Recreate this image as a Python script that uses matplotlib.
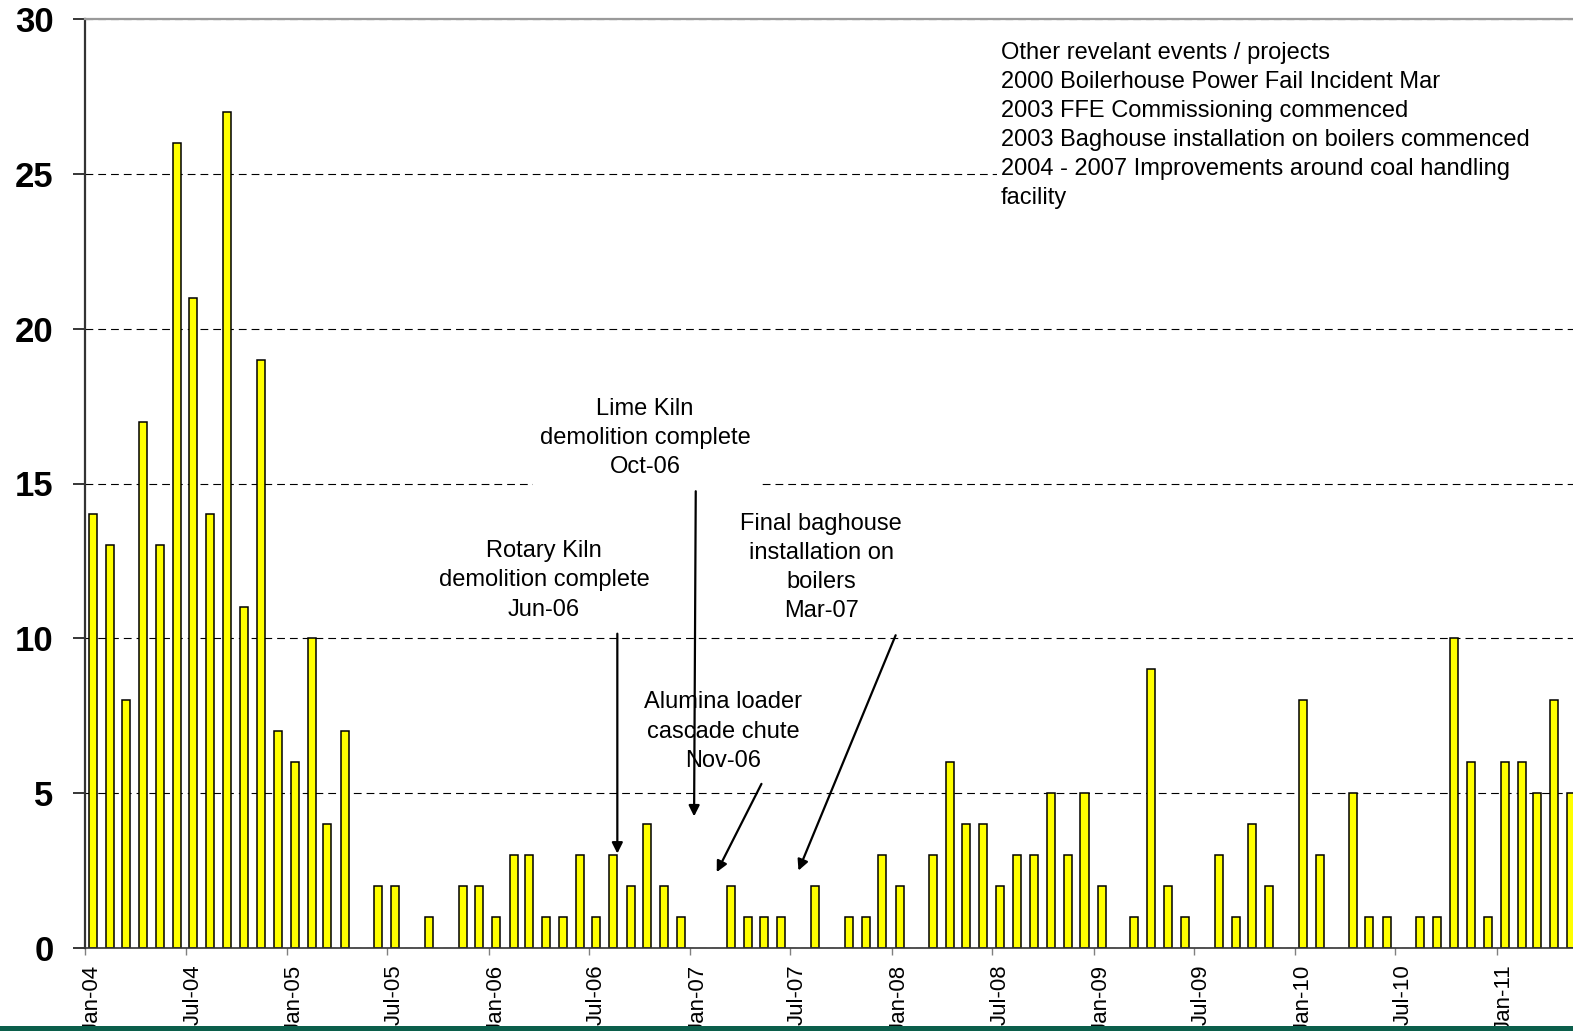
import matplotlib
matplotlib.use('Agg')
import matplotlib.pyplot as plt
import matplotlib.dates as mdates
import matplotlib.transforms as mtransforms
from matplotlib.patches import Rectangle
import pandas as pd

plt.rcParams['font.family'] = ['Liberation Sans', 'DejaVu Sans']

# monthly counts, Jan-04 .. May-11 (last bar is cut by the right edge)
months = pd.date_range('2004-01-01', '2011-05-01', freq='MS')
counts = [14, 13, 8, 17, 13, 26, 21, 14, 27, 11, 19, 7,
          6, 10, 4, 7, 0, 2, 2, 0, 1, 0, 2, 2,
          1, 3, 3, 1, 1, 3, 1, 3, 2, 4, 2, 1,
          0, 0, 2, 1, 1, 1, 0, 2, 0, 1, 1, 3,
          2, 0, 3, 6, 4, 4, 2, 3, 3, 5, 3, 5,
          2, 0, 1, 9, 2, 1, 0, 3, 1, 4, 2, 0,
          8, 3, 0, 5, 1, 1, 0, 1, 1, 10, 6, 1,
          6, 6, 5, 8, 5]
tick_dates = pd.date_range('2004-01-01', '2011-01-01', freq='6MS')
yticks = [0, 5, 10, 15, 20, 25, 30]

events_text = ("Other revelant events / projects\n"
               "2000 Boilerhouse Power Fail Incident Mar\n"
               "2003 FFE Commissioning commenced\n"
               "2003 Baghouse installation on boilers commenced\n"
               "2004 - 2007 Improvements around coal handling\n"
               "facility")

# (text, text centre date, text centre y, arrow tail date, tail y, arrow tip date, tip y)
notes = [
    ("Rotary Kiln\ndemolition complete\nJun-06", '2006-04-11', 11.87,
     '2006-08-22', 10.15, '2006-08-22', 3.05),
    ("Lime Kiln\ndemolition complete\nOct-06", '2006-10-11', 16.47,
     '2007-01-11', 14.75, '2007-01-08', 4.25),
    ("Alumina loader\ncascade chute\nNov-06", '2007-03-02', 6.99,
     '2007-05-10', 5.3, '2007-02-18', 2.45),
    ("Final baghouse\ninstallation on\nboilers\nMar-07", '2007-08-26', 12.29,
     '2008-01-08', 10.1, '2007-07-16', 2.5),
]

W, H = 1573, 1031
fig = plt.figure(figsize=(W / 100, H / 100), dpi=100)

x_left, y_top, y_zero = 85, 19, 948
d0 = mdates.date2num(pd.Timestamp('2004-01-01'))
d_ref = mdates.date2num(pd.Timestamp('2011-01-01'))
px_day = (1497 - 85) / (d_ref - d0)
d1 = mdates.date2num(pd.Timestamp('2011-06-15'))
ax_w = (d1 - d0) * px_day
ax_h = y_zero - y_top
ax = fig.add_axes([x_left / W, 1 - y_zero / H, ax_w / W, ax_h / H])


def axfrac(xp, yp):
    return (xp - x_left) / ax_w, (y_zero - yp) / ax_h


x = mdates.date2num(months) + 14
keep = [i for i, c in enumerate(counts) if c > 0]
ax.bar([x[i] for i in keep], [counts[i] for i in keep], width=14.5,
       color='#FFFF00', edgecolor='black', linewidth=1.1, zorder=2)

ax.set_xlim(d0, d1)
ax.set_ylim(0, 30)
ax.set_axisbelow(True)
ax.yaxis.grid(True, color='black', linewidth=0.8, linestyle=(0, (7, 4.5)))

ax.set_yticks(yticks)
ax.set_yticklabels([str(v) for v in yticks], fontsize=25, fontweight='bold')
ax.tick_params(axis='y', length=8.6, width=1.1, color='black', pad=14)

ax.set_xticks(mdates.date2num(tick_dates))
ax.set_xticklabels([d.strftime('%b-%y') for d in tick_dates], fontsize=16,
                   rotation=90, ha='left', va='top')
ax.tick_params(axis='x', length=5, width=1.0, color='#808080', pad=7)
shift = mtransforms.ScaledTranslation(-3 / 100, 0, fig.dpi_scale_trans)
for lab in ax.get_xticklabels():
    lab.set_transform(lab.get_transform() + shift)

ax.spines['top'].set_color('#9a9a9a')
ax.spines['top'].set_linewidth(1.6)
ax.spines['left'].set_color('#333333')
ax.spines['left'].set_linewidth(1.6)
ax.spines['bottom'].set_color('#333333')
ax.spines['bottom'].set_linewidth(1.2)
ax.spines['right'].set_visible(False)

# white boxes behind the Lime Kiln note and the events list
for (px0, py0, px1, py1) in [(533, 390, 760, 490), (997, 28, 1700, 212)]:
    fx0, fy1 = axfrac(px0, py0)
    fx1, fy0 = axfrac(px1, py1)
    ax.add_patch(Rectangle((fx0, fy0), fx1 - fx0, fy1 - fy0,
                           transform=ax.transAxes, facecolor='white',
                           edgecolor='none', zorder=3, clip_on=False))

for txt, tx, ty, ax0, ay0, ax1, ay1 in notes:
    tx = mdates.date2num(pd.Timestamp(tx))
    ax.text(tx, ty, txt, ha='center', va='center', fontsize=17,
            linespacing=1.42, zorder=4)
    ax.annotate('', xy=(mdates.date2num(pd.Timestamp(ax1)), ay1),
                xytext=(mdates.date2num(pd.Timestamp(ax0)), ay0),
                arrowprops=dict(arrowstyle='-|>', color='black', lw=1.6,
                                mutation_scale=16, shrinkA=0, shrinkB=0),
                zorder=5)

ex, ey = axfrac(1001, 125.5)
ax.text(ex, ey, events_text, transform=ax.transAxes, ha='left', va='center',
        fontsize=17, linespacing=1.42, zorder=4)

fig.add_artist(Rectangle((0, 0), 1, 5 / H, transform=fig.transFigure,
                         facecolor='#0b5e4b', edgecolor='none', zorder=10))

fig.savefig('out.png', dpi=100)
